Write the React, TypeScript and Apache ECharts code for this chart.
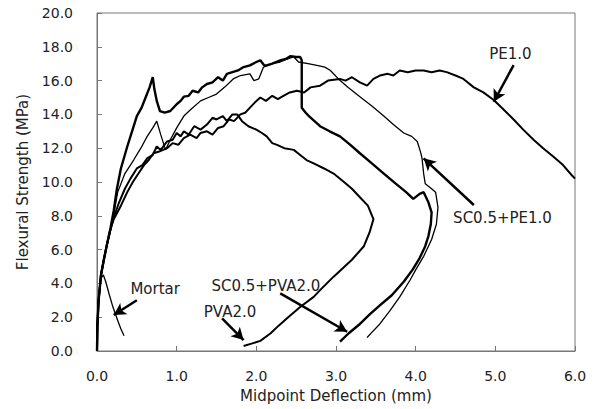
import React, { useEffect, useRef } from "react";
import * as echarts from "echarts";

// ---- data (deflection mm, flexural strength MPa) ----
const mortar: number[][] = [
  [0, 0], [0.005, 1.5], [0.02, 3.0], [0.05, 4.3], [0.08, 4.5], [0.11, 4.1], [0.15, 3.4],
  [0.2, 2.6], [0.26, 1.8], [0.3, 1.3], [0.34, 0.9],
];

const pva20: number[][] = [
  [0, 0], [0.005, 1.5], [0.02, 3.0], [0.05, 4.5], [0.09, 5.5], [0.125, 6.3], [0.17, 7.2],
  [0.21, 7.9], [0.27, 8.7], [0.35, 9.6], [0.42, 10.2], [0.5, 10.8], [0.57, 11.0], [0.63, 11.4],
  [0.7, 11.6], [0.75, 12.1], [0.8, 11.9], [0.88, 12.4], [0.95, 12.5], [1.0, 12.9],
  [1.05, 12.7], [1.09, 13.0], [1.15, 12.8], [1.22, 13.3], [1.3, 13.1], [1.38, 13.4],
  [1.45, 13.8], [1.5, 13.7], [1.58, 13.9], [1.63, 13.6], [1.7, 14.0], [1.76, 14.0],
  [1.82, 13.6], [1.9, 13.3], [2.0, 13.1], [2.07, 12.9], [2.13, 12.7], [2.2, 12.3],
  [2.26, 12.2], [2.35, 12.0], [2.47, 11.9], [2.55, 11.6], [2.63, 11.3], [2.72, 11.1],
  [2.85, 10.8], [2.97, 10.5], [3.1, 10.0], [3.2, 9.6], [3.3, 9.1], [3.4, 8.6],
  [3.47, 7.8], [3.42, 7.0], [3.35, 6.2], [3.2, 5.4], [2.97, 4.4], [2.8, 3.6],
  [2.72, 3.2], [2.55, 2.6], [2.4, 2.0], [2.28, 1.5], [2.18, 1.05], [2.05, 0.6],
  [1.95, 0.45], [1.84, 0.3],
];

const pe10: number[][] = [
  [0, 0], [0.005, 1.5], [0.02, 3.0], [0.05, 4.5], [0.09, 5.5], [0.125, 6.3], [0.17, 7.2],
  [0.21, 7.8], [0.3, 8.6], [0.38, 9.4], [0.45, 10.0], [0.52, 10.5], [0.59, 11.0], [0.65, 11.3],
  [0.71, 11.7], [0.78, 11.8], [0.88, 12.0], [0.95, 12.3], [1.02, 12.2], [1.09, 12.6],
  [1.17, 12.8], [1.25, 12.6], [1.3, 12.9], [1.38, 13.0], [1.45, 12.8], [1.52, 13.2],
  [1.59, 13.3], [1.66, 13.7], [1.72, 13.6], [1.8, 14.0], [1.86, 14.1], [1.92, 14.4],
  [1.98, 14.7], [2.05, 15.0], [2.12, 14.8], [2.2, 15.1], [2.27, 14.9], [2.34, 15.1],
  [2.42, 15.3], [2.51, 15.4], [2.6, 15.3], [2.68, 15.6], [2.8, 15.7], [2.9, 16.0],
  [3.05, 16.1], [3.12, 16.0], [3.2, 16.2], [3.3, 15.9], [3.39, 15.7], [3.47, 16.1],
  [3.55, 16.3], [3.65, 16.4], [3.72, 16.3], [3.8, 16.6], [3.9, 16.5], [4.0, 16.6],
  [4.1, 16.6], [4.2, 16.5], [4.3, 16.6], [4.39, 16.5], [4.5, 16.3], [4.6, 16.1],
  [4.73, 15.6], [4.85, 15.3], [4.98, 14.85], [5.1, 14.3], [5.23, 13.7], [5.35, 13.1],
  [5.48, 12.5], [5.6, 12.0], [5.73, 11.5], [5.85, 11.0], [5.96, 10.4], [6.0, 10.2],
];

const sc05pe10: number[][] = [
  [0, 0], [0.005, 1.5], [0.02, 3.0], [0.05, 4.5], [0.09, 5.5], [0.125, 6.3], [0.17, 7.2],
  [0.21, 8.1], [0.26, 9.4], [0.35, 10.5], [0.46, 11.3], [0.55, 12.0], [0.63, 12.7], [0.7, 13.2],
  [0.75, 13.6], [0.8, 12.8], [0.86, 11.9], [0.92, 12.5], [1.0, 13.2], [1.09, 13.9],
  [1.18, 14.3], [1.3, 14.8], [1.4, 15.0], [1.5, 15.2], [1.6, 15.6], [1.71, 16.1],
  [1.8, 16.3], [1.92, 16.4], [1.97, 16.0], [2.03, 16.1], [2.09, 16.8], [2.2, 17.0],
  [2.3, 17.1], [2.4, 17.3], [2.47, 17.4], [2.53, 17.1], [2.65, 17.0], [2.76, 16.9],
  [2.86, 16.8], [2.93, 16.6], [3.03, 16.1], [3.15, 15.6], [3.3, 15.05], [3.45, 14.5],
  [3.6, 13.9], [3.72, 13.4], [3.85, 12.9], [3.95, 12.7], [4.02, 12.4], [4.06, 11.8],
  [4.08, 11.4], [4.1, 10.5], [4.12, 9.9], [4.2, 9.6], [4.25, 9.4], [4.28, 8.5],
  [4.26, 7.5], [4.2, 6.6], [4.1, 5.6], [4.0, 4.8], [3.93, 4.2], [3.8, 3.2],
  [3.68, 2.4], [3.55, 1.6], [3.45, 1.1], [3.39, 0.8],
];

const sc05pva20: number[][] = [
  [0, 0], [0.005, 1.5], [0.02, 3.0], [0.05, 4.5], [0.09, 5.5], [0.125, 6.3], [0.17, 7.3],
  [0.21, 8.3], [0.25, 9.6], [0.3, 10.8], [0.38, 12.1], [0.44, 13.0], [0.5, 13.9], [0.56, 14.4], [0.61, 15.0],
  [0.66, 15.6], [0.7, 16.2], [0.72, 15.5], [0.75, 14.8], [0.79, 14.2], [0.85, 14.1],
  [0.92, 14.2], [1.0, 14.6], [1.05, 14.8], [1.09, 15.05], [1.15, 15.1], [1.2, 15.4],
  [1.27, 15.3], [1.32, 15.6], [1.38, 15.8], [1.45, 15.9], [1.52, 16.2], [1.58, 16.0],
  [1.63, 16.4], [1.7, 16.5], [1.77, 16.6], [1.84, 16.8], [1.92, 16.9], [2.0, 17.1],
  [2.05, 17.2], [2.1, 16.9], [2.13, 16.9], [2.2, 17.0], [2.3, 17.2], [2.38, 17.3],
  [2.43, 17.45], [2.5, 17.4], [2.55, 17.4], [2.57, 17.2], [2.57, 14.4], [2.62, 14.1],
  [2.66, 13.9], [2.73, 13.6], [2.8, 13.3], [2.92, 13.0], [3.05, 12.7], [3.18, 12.2],
  [3.3, 11.7], [3.45, 11.1], [3.6, 10.5], [3.75, 9.9], [3.88, 9.4], [3.97, 9.0],
  [4.05, 9.3], [4.1, 9.4], [4.16, 8.8], [4.2, 8.2], [4.19, 7.5], [4.16, 6.8],
  [4.12, 6.2], [4.05, 5.5], [3.96, 4.8], [3.85, 4.1], [3.7, 3.3], [3.55, 2.7],
  [3.43, 2.2], [3.3, 1.6], [3.16, 1.05], [3.05, 0.55],
];

// annotation labels: text and centre in data coordinates
const labelTexts = ["PE1.0", "SC0.5+PE1.0", "Mortar", "PVA2.0", "SC0.5+PVA2.0"];
const labelPos: number[][] = [[5.19, 17.57], [5.09, 7.85], [0.73, 3.65], [1.67, 2.33], [2.12, 3.85]];
// arrows: [tail, tip] in data coordinates
const arrows: number[][][] = [
  [[5.23, 16.92], [4.98, 14.75]],
  [[4.73, 8.64], [4.1, 11.4]],
  [[0.5, 3.0], [0.21, 2.13]],
  [[1.57, 1.93], [1.84, 0.65]],
  [[2.3, 3.41], [3.14, 1.14]],
];

const FONT = "DejaVu Sans";

export default function App() {
  const ref = useRef<HTMLDivElement>(null);
  useEffect(() => {
    if (!ref.current) return;
    const chart = echarts.init(ref.current, null, { renderer: "svg" });
    const mk = (name: string, data: number[][], width: number) => ({
      name,
      type: "line",
      data,
      showSymbol: false,
      symbol: "none",
      silent: true,
      lineStyle: { color: "#000", width },
      z: 3,
    });
    const fmt = (v: number) => v.toFixed(1);
    chart.setOption({
      animation: false,
      backgroundColor: "#fff",
      grid: { left: 97, right: 20, top: 13, bottom: 58, show: true, borderColor: "#777", borderWidth: 1 },
      xAxis: {
        type: "value",
        min: 0,
        max: 6,
        interval: 1,
        axisLine: { show: true, onZero: false, lineStyle: { color: "#777", width: 1 } },
        axisTick: { show: true, inside: true, length: 5, lineStyle: { color: "#777" } },
        splitLine: { show: false },
        axisLabel: { formatter: fmt, color: "#222", fontSize: 14, fontFamily: FONT, margin: 18 },
        name: "Midpoint Deflection (mm)",
        nameLocation: "middle",
        nameGap: 37,
        nameTextStyle: { color: "#222", fontSize: 15, fontFamily: FONT },
      },
      yAxis: {
        type: "value",
        min: 0,
        max: 20,
        interval: 2,
        axisLine: { show: true, onZero: false, lineStyle: { color: "#777", width: 1 } },
        axisTick: { show: true, inside: true, length: 5, lineStyle: { color: "#777" } },
        splitLine: { show: false },
        axisLabel: { formatter: fmt, color: "#222", fontSize: 14, fontFamily: FONT, margin: 24 },
        name: "Flexural Strength (MPa)",
        nameLocation: "middle",
        nameGap: 66,
        nameTextStyle: { color: "#222", fontSize: 15, fontFamily: FONT },
      },
      series: [
        mk("Mortar", mortar, 1.3),
        mk("PVA2.0", pva20, 2),
        mk("PE1.0", pe10, 2),
        mk("SC0.5+PE1.0", sc05pe10, 1.3),
        mk("SC0.5+PVA2.0", sc05pva20, 2.4),
        {
          name: "arrows",
          type: "line",
          data: [],
          silent: true,
          markLine: {
            silent: true,
            animation: false,
            symbol: ["none", "arrow"],
            symbolSize: [10, 12],
            label: { show: false },
            emphasis: { disabled: true },
            lineStyle: { color: "#000", width: 2.5, type: "solid" },
            data: arrows.map((a) => [{ coord: a[0] }, { coord: a[1] }]),
          },
        },
      ],
    });
    const graphics = labelTexts.map((t, i) => {
      const p = chart.convertToPixel({ gridIndex: 0 }, labelPos[i]) as number[];
      return {
        type: "text",
        x: p[0],
        y: p[1],
        silent: true,
        style: {
          text: t,
          fill: "#222",
          font: `15px "${FONT}"`,
          align: "center",
          verticalAlign: "middle",
        },
      };
    });
    chart.setOption({ graphic: graphics });
    return () => chart.dispose();
  }, []);
  return (
    <div
      ref={ref}
      style={{ position: "fixed", left: 0, top: 0, width: 595, height: 409, background: "#fff" }}
    />
  );
}
